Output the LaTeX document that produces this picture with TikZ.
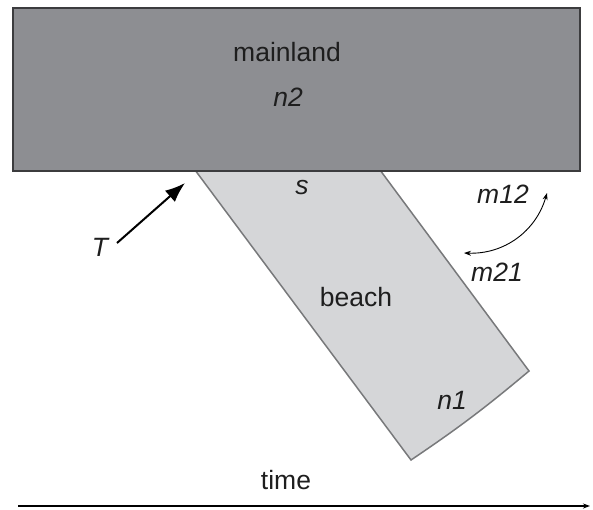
\documentclass[tikz,border=0pt]{standalone}
\usepackage{fontspec}
\setmainfont{Liberation Sans}
\usetikzlibrary{arrows.meta}
\definecolor{landgray}{RGB}{141,142,146}
\definecolor{landedge}{RGB}{60,60,62}
\definecolor{sandgray}{RGB}{213,214,216}
\definecolor{sandedge}{RGB}{120,121,123}
\definecolor{inkgray}{RGB}{30,30,30}
\tikzset{
  lbl/.style={font=\fontsize{26.5}{30}\selectfont, text=inkgray, inner sep=0pt},
  ilbl/.style={lbl, font=\fontsize{26.5}{30}\selectfont\itshape},
}
\begin{document}
\begin{tikzpicture}[x=1pt,y=1pt]
\useasboundingbox (0,0) rectangle (593,-509);
% beach strip, drawn below the mainland
\draw[fill=sandgray, draw=sandedge, line width=1.5pt]
  (195,-170) -- (380,-170) -- (529,-371) to[bend left=3] (411,-460) -- cycle;
% mainland block
\draw[fill=landgray, draw=landedge, line width=2pt] (13,-8) rectangle (580,-171);
% labels
\node[lbl] (mainland) at (287,-52) {mainland};
\node[ilbl] (n2) at (288,-97) {n2};
\node[ilbl] (s) at (302,-188) {s};
\node[lbl] (beach) at (356,-297) {beach};
\node[ilbl] (n1) at (452,-400) {n1};
\node[ilbl] (m12) at (503,-194) {m12};
\node[ilbl] (m21) at (497,-272) {m21};
\node[ilbl] (T) at (100,-247) {T};
\node[lbl] (time) at (286,-480) {time};
% transfer arrow
\coordinate (Ttail) at (117,-243);
\coordinate (Thead) at (185,-183);
\draw[line width=2pt, -{Latex[length=20pt,width=15pt]}] (Ttail) -- (Thead);
% migration arc between the two patches
\coordinate (ma) at (464,-253);
\coordinate (mb) at (547,-193);
\draw[line width=0.9pt, {Stealth[length=7pt,width=5pt]}-{Stealth[length=7pt,width=5pt]}] (ma) to[bend right=38] (mb);
% time axis
\coordinate (t0) at (18,-506);
\coordinate (t1) at (590,-506);
\draw[line width=1.1pt, -{Stealth[length=7pt,width=5pt]}] (t0) -- (t1);
\end{tikzpicture}
\end{document}
